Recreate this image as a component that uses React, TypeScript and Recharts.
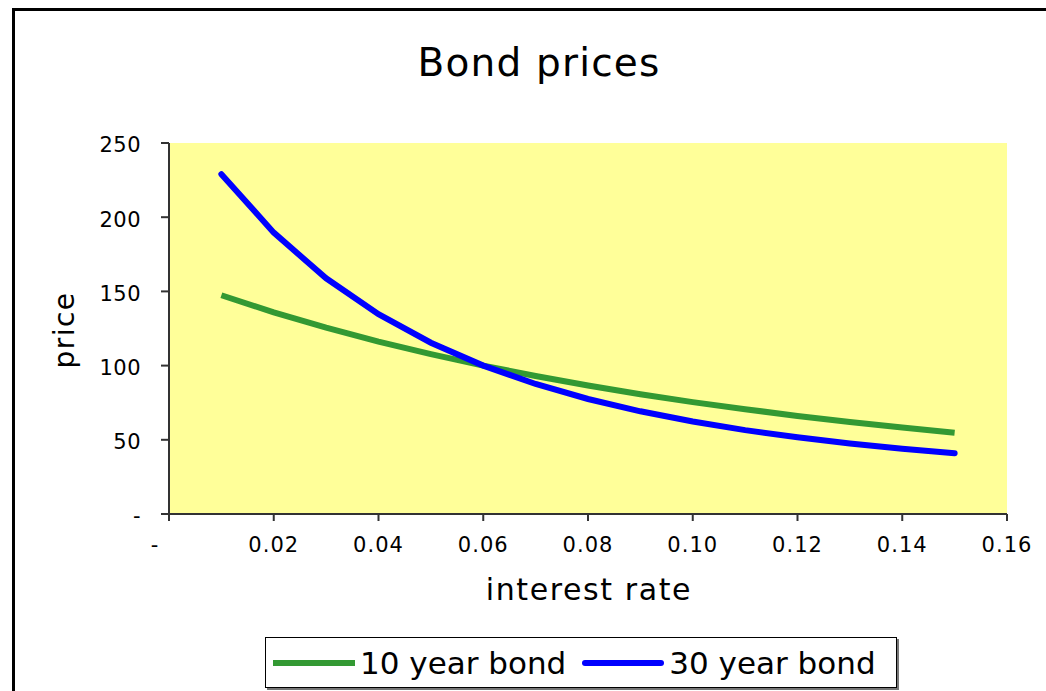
import React from 'react'
import { LineChart, Line, XAxis, YAxis, CartesianGrid } from 'recharts'

const RATES = [0.01, 0.02, 0.03, 0.04, 0.05, 0.06, 0.07, 0.08, 0.09, 0.1, 0.11, 0.12, 0.13, 0.14, 0.15]
const TEN_YEAR = [147.4, 135.9, 125.6, 116.2, 107.7, 100, 93.0, 86.6, 80.7, 75.4, 70.6, 66.1, 62.0, 58.3, 54.8]
const THIRTY_YEAR = [229.0, 189.6, 158.8, 134.6, 115.4, 100, 87.6, 77.5, 69.2, 62.3, 56.5, 51.7, 47.5, 44.0, 40.9]
const X_TICKS = [0, 0.02, 0.04, 0.06, 0.08, 0.1, 0.12, 0.14, 0.16]
const Y_TICKS = [0, 50, 100, 150, 200, 250]

const data = RATES.map((r, i) => ({ rate: r, ten: TEN_YEAR[i], thirty: THIRTY_YEAR[i] }))

const FONT = '"DejaVu Sans", Verdana, sans-serif'
const GREEN = '#339933'
const BLUE = '#0000ff'

const XTick = ({ x, y, payload }: any) => (
  <text x={payload.value === 0 ? x - 14 : x} y={y} dy="0.71em" textAnchor="middle"
    fontFamily={FONT} fontSize={21} letterSpacing={1} fill="#000">
    {payload.value === 0 ? '-' : Number(payload.value).toFixed(2)}
  </text>
)

const YTick = ({ x, y, payload }: any) => (
  <text x={x} y={y + 2} dy="0.355em" textAnchor="end" fontFamily={FONT} fontSize={21} letterSpacing={0.5} fill="#000">
    {payload.value === 0 ? '-' : payload.value}
  </text>
)

function LegendItem({ color, label, square }: { color: string; label: string; square?: boolean }) {
  return (
    <div style={{ display: 'flex', alignItems: 'center', marginRight: 16, flexShrink: 0, whiteSpace: 'nowrap' }}>
      <div style={{
        width: 82, height: 6, background: color, marginRight: 5, flexShrink: 0,
        borderRadius: square ? 0 : 3,
      }} />
      <span>{label}</span>
    </div>
  )
}

export default function App() {
  return (
    <div style={{ position: 'absolute', left: 0, top: 0, width: 1046, height: 691, overflow: 'hidden', background: '#fff', fontFamily: FONT }}>
      {/* outer chart frame, runs off the right and bottom edges */}
      <div style={{ position: 'absolute', left: 12, top: 8, width: 1100, height: 800, border: '3px solid #000' }} />

      <LineChart width={1046} height={691} data={data}
        margin={{ top: 143, right: 39, bottom: 127, left: 109 }}
        style={{ position: 'absolute', left: 0, top: 0 }}>
        <CartesianGrid horizontal={false} vertical={false} fill="#ffff99" />
        <XAxis dataKey="rate" type="number" domain={[0, 0.16]} ticks={X_TICKS} height={50}
          axisLine={{ stroke: '#333', strokeWidth: 2 }} tickLine={{ stroke: '#333', strokeWidth: 2 }}
          tickSize={7} tickMargin={16} tick={<XTick />} interval={0} />
        <XAxis xAxisId="top" orientation="top" dataKey="rate" type="number" domain={[0, 0.16]} height={0}
          axisLine={{ stroke: '#808080', strokeWidth: 2.5 }} tick={false} tickLine={false} />
        <YAxis type="number" domain={[0, 250]} ticks={Y_TICKS} width={60}
          axisLine={{ stroke: '#333', strokeWidth: 2 }} tickLine={{ stroke: '#333', strokeWidth: 2 }}
          tickSize={8} tickMargin={20} tick={<YTick />} interval={0} />
        <YAxis yAxisId="right" orientation="right" type="number" domain={[0, 250]} width={0}
          axisLine={{ stroke: '#808080', strokeWidth: 2.5 }} tick={false} tickLine={false} />
        <Line dataKey="ten" stroke={GREEN} strokeWidth={6} dot={false} strokeLinecap="butt"
          isAnimationActive={false} />
        <Line dataKey="thirty" stroke={BLUE} strokeWidth={6} dot={false} strokeLinecap="round"
          isAnimationActive={false} />
      </LineChart>

      <svg width={1046} height={691} style={{ position: 'absolute', left: 0, top: 0, pointerEvents: 'none' }}>
        <text x={539} y={76} textAnchor="middle" fontFamily={FONT} fontSize={39} letterSpacing={1.2} fill="#000">Bond prices</text>
        <text x={589} y={600} textAnchor="middle" fontFamily={FONT} fontSize={30} letterSpacing={1.6} fill="#000">interest rate</text>
        <text transform="translate(74,330) rotate(-90)" textAnchor="middle" fontFamily={FONT} fontSize={28} letterSpacing={1.5} fill="#000">price</text>
      </svg>

      <div style={{
        position: 'absolute', left: 265, top: 637, width: 632, height: 51,
        border: '1px solid #000', boxShadow: '2px 2px 0 #777', background: '#fff',
        display: 'flex', alignItems: 'center', paddingLeft: 7, boxSizing: 'border-box',
        fontSize: 31, color: '#000', whiteSpace: 'nowrap', overflow: 'hidden',
      }}>
        <LegendItem color={GREEN} label="10 year bond" square />
        <LegendItem color={BLUE} label="30 year bond" />
      </div>
    </div>
  )
}
